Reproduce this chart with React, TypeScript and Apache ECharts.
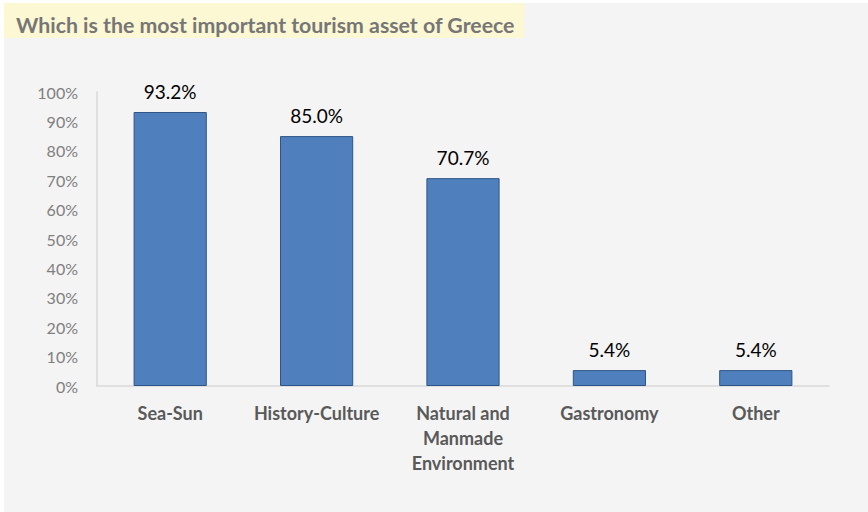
import React, { useEffect, useRef } from "react";
import * as echarts from "echarts";

const categories = ["Sea-Sun", "History-Culture", "Natural and\nManmade\nEnvironment", "Gastronomy", "Other"];
const values = [93.2, 85.0, 70.7, 5.4, 5.4];
const titleText = "Which is the most important tourism asset of Greece";

const FONT = "Lato, 'Open Sans', sans-serif";

export default function App() {
  const ref = useRef<HTMLDivElement>(null);
  useEffect(() => {
    document.body.style.margin = "0";
    const chart = echarts.init(ref.current!, undefined, { renderer: "svg" });
    chart.setOption({
      animation: false,
      backgroundColor: "#ffffff",
      textStyle: { fontFamily: FONT },
      graphic: [
        { type: "rect", left: 4, top: 3, shape: { width: 864, height: 509 }, style: { fill: "#f4f4f4" }, z: -10 },
        { type: "rect", left: 4, top: 3, shape: { width: 520, height: 35 }, style: { fill: "#fcf8d3" }, z: -9 },
      ],
      title: {
        text: titleText,
        left: 11,
        top: 9,
        textStyle: { fontFamily: FONT, fontWeight: "bold", fontSize: 21.3, color: "#767676" },
      },
      grid: { left: 97, right: 39, top: 92, bottom: 126 },
      xAxis: {
        type: "category",
        data: categories,
        axisLine: { lineStyle: { color: "#d9d9d9", width: 1.5 } },
        axisTick: { show: false },
        axisLabel: {
          interval: 0,
          margin: 14,
          fontFamily: FONT,
          fontWeight: "bold",
          fontSize: 18,
          lineHeight: 25,
          color: "#595959",
        },
      },
      yAxis: {
        type: "value",
        min: 0,
        max: 100,
        interval: 10,
        axisLine: { show: true, lineStyle: { color: "#d9d9d9", width: 1.5 } },
        axisTick: { show: false },
        splitLine: { show: false },
        axisLabel: { formatter: "{value}%", fontFamily: FONT, fontSize: 16, color: "#7f7f7f", margin: 19 },
      },
      series: [
        {
          type: "bar",
          data: values,
          barWidth: "50%",
          itemStyle: { color: "#4f80bd", borderColor: "#2f5486", borderWidth: 1 },
          label: {
            show: true,
            position: "top",
            distance: 11,
            formatter: (p: any) => p.value.toFixed(1) + "%",
            fontFamily: FONT,
            fontSize: 19,
            color: "#000000",
          },
        },
      ],
    });
    return () => chart.dispose();
  }, []);
  return <div ref={ref} style={{ width: 868, height: 512 }} />;
}
